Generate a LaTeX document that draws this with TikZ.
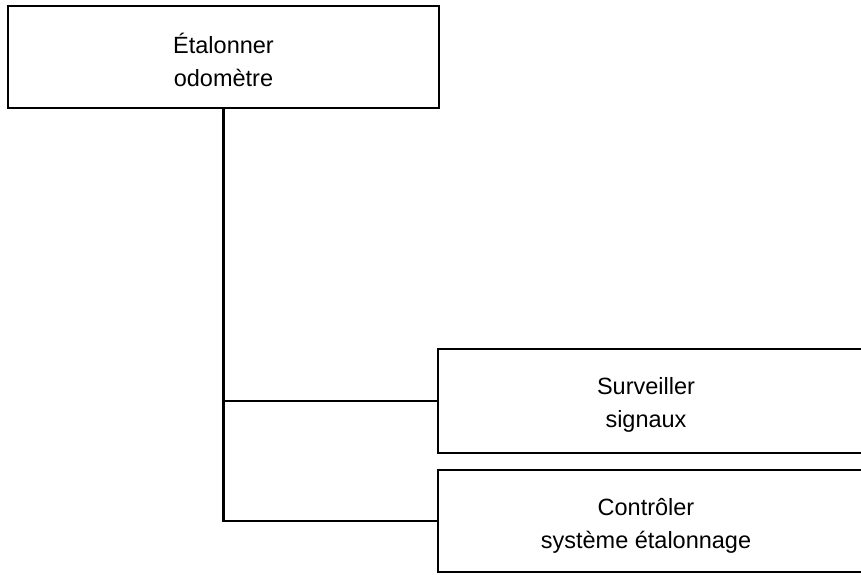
\documentclass[tikz,border=0pt]{standalone}
\usepackage{fontspec}
\setmainfont{Liberation Sans}
\usetikzlibrary{calc}

\begin{document}
\begin{tikzpicture}[x=1pt,y=-1pt,
    boxst/.style={draw=black,line width=2.6pt,rectangle,inner sep=0pt},
    txtst/.style={align=center,font=\fontsize{23.5}{33}\selectfont,inner sep=0pt},
    linkst/.style={draw=black,line width=2.6pt}]
  \useasboundingbox (0,0) rectangle (861,574);
  \clip (0,0) rectangle (861,574);
  % parent task
  \node[boxst,minimum width=431pt,minimum height=102pt] (etal) at (223.5,57) {};
  \node[txtst] (etalt) at (223.5,60) {Étalonner\\odomètre};
  % sub tasks (running off the right edge)
  \node[boxst,minimum width=452pt,minimum height=104pt] (surv) at (664,401) {};
  \node[txtst] (survt) at (646,405) {Surveiller\\signaux};
  \node[boxst,minimum width=452pt,minimum height=102pt] (ctrl) at (664,521) {};
  \node[txtst] (ctrlt) at (646,526) {Contrôler\\système étalonnage};
  % links
  \draw[linkst] (etal.south) |- (surv.west);
  \draw[linkst] (etal.south) |- (ctrl.west);
\end{tikzpicture}
\end{document}
